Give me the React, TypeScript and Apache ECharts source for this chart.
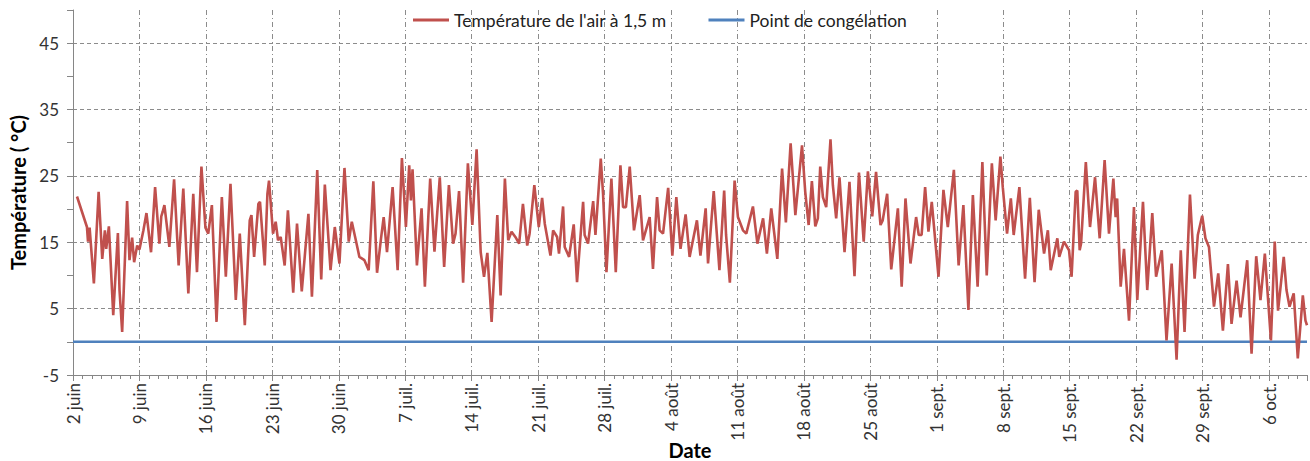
import React, { useEffect, useRef } from "react";
import * as echarts from "echarts";

// Days since 2 June (0 = 2 juin) and air temperature (°C) at 1.5 m
const tempDays = [
  0.42, 1.47, 1.58, 1.75, 2.2, 2.7, 3.08, 3.36, 3.5, 3.78, 4.24, 4.73, 4.9, 5.18, 5.7, 5.95, 6.23, 6.44, 6.76, 7.0,
  7.42, 7.74, 8.22, 8.65, 9.1, 9.3, 9.45, 9.63, 10.15, 10.65, 11.13, 11.62, 12.15, 12.67, 13.06, 13.53, 13.95, 14.25,
  14.63, 15.12, 15.68, 16.1, 16.59, 17.15, 17.57, 18.1, 18.62, 18.8, 19.08, 19.53, 19.7, 20.2, 20.48, 20.65, 21.07,
  21.35, 21.6, 21.88, 22.3, 22.64, 23.2, 23.6, 24.1, 24.8, 25.17, 25.73, 26.15, 26.53, 27.13, 27.58, 28.07, 28.6,
  29.05, 29.37, 29.75, 30.17, 30.7, 31.15, 31.64, 32.03, 32.45, 32.73, 33.08, 33.67, 34.2, 34.65, 35.07, 35.42, 35.6,
  35.77, 36.23, 36.72, 37.07, 37.63, 38.08, 38.64, 39.1, 39.6, 40.04, 40.3, 40.67, 41.1, 41.6, 42.07, 42.52, 42.95,
  43.3, 43.65, 44.1, 44.7, 45.05, 45.5, 45.85, 46.2, 46.6, 47.0, 47.4, 47.85, 48.1, 48.6, 49.07, 49.42, 49.7, 49.95,
  50.3, 50.58, 51.0, 51.2, 51.63, 51.8, 52.26, 52.75, 53.1, 53.74, 53.9, 54.26, 54.8, 55.04, 55.6, 55.84, 56.2, 56.72,
  57.18, 57.67, 57.95, 58.25, 58.65, 59.1, 59.7, 60.05, 60.75, 61.1, 61.53, 61.8, 62.16, 62.7, 63.14, 63.56, 64.0,
  64.54, 64.96, 65.73, 66.1, 66.65, 66.9, 67.5, 68.1, 68.6, 68.8, 69.2, 69.7, 70.05, 70.58, 70.93, 71.63, 72.1, 72.7,
  73.1, 73.56, 74.2, 74.7, 75.1, 75.6, 76.1, 76.8, 77.14, 77.5, 77.84, 78.2, 78.47, 78.72, 79.0, 79.35, 79.8, 80.05,
  80.4, 80.75, 81.28, 81.8, 82.33, 82.8, 83.3, 83.74, 84.2, 84.6, 85.07, 85.3, 85.77, 86.2, 86.9, 87.3, 87.7, 88.23,
  88.82, 89.1, 89.4, 89.77, 90.12, 90.47, 91.18, 91.7, 92.16, 92.8, 93.3, 93.8, 94.33, 94.8, 95.3, 95.8, 96.26, 96.8,
  97.2, 97.7, 97.95, 98.4, 98.8, 99.1, 99.7, 100.3, 100.8, 101.3, 101.74, 102.3, 102.7, 103.0, 103.7, 103.9, 104.4,
  104.93, 105.2, 105.63, 105.8, 106.05, 106.2, 106.7, 107.14, 107.67, 108.16, 108.68, 109.14, 109.6, 109.84, 110.0,
  110.37, 110.72, 111.25, 111.77, 112.12, 112.72, 113.17, 113.7, 114.1, 114.7, 115.2, 115.74, 116.26, 116.7, 117.1,
  117.67, 118.16, 118.5, 118.96, 119.3, 119.67, 120.2, 120.65, 121.14, 121.67, 122.05, 122.58, 123.0, 123.7, 124.16,
  124.65, 125.1, 125.56, 126.2, 126.6, 126.95, 127.55, 127.84, 128.16, 128.6, 129.03, 129.56, 129.84, 130.0,
];

const tempValues = [
  21.9, 17.3, 15.1, 17.2, 8.8, 22.6, 12.5, 16.8, 14.0, 17.4, 4.0, 16.4, 7.8, 1.5, 21.2, 12.3, 15.7, 12.0, 14.5, 13.9,
  16.8, 19.4, 13.5, 23.3, 14.8, 18.9, 19.6, 20.6, 14.3, 24.5, 11.5, 23.1, 7.3, 22.3, 10.5, 26.4, 17.2, 16.3,
  20.6, 3.0, 21.8, 9.8, 23.8, 6.3, 16.3, 2.5, 18.3, 19.1, 12.8, 20.8, 21.1, 11.5, 22.3, 24.3, 16.3,
  18.1, 15.3, 15.8, 11.5, 19.8, 7.4, 17.8, 7.6, 19.3, 6.8, 25.9, 9.4, 23.7, 10.8, 17.3, 11.8, 26.2,
  15.1, 18.1, 15.6, 12.8, 12.3, 10.8, 24.2, 10.4, 15.6, 18.8, 13.5, 23.3, 10.8, 27.7, 17.3, 26.6, 21.3,
  26.0, 11.5, 20.1, 8.3, 24.6, 13.6, 24.8, 11.3, 23.6, 14.8, 16.3, 22.7, 8.9, 26.9, 17.6, 29.0, 13.5,
  9.8, 13.4, 3.0, 19.1, 7.0, 24.6, 15.3, 16.6, 15.8, 14.8, 20.8, 14.5, 16.3, 23.6, 17.3, 21.7, 17.8, 15.8,
  13.0, 16.8, 15.8, 13.3, 20.4, 14.3, 12.8, 17.7, 9.0, 21.1, 16.1, 14.8, 21.2, 16.1, 27.6, 22.3, 10.5, 24.6,
  10.5, 26.6, 20.3, 20.3, 26.4, 16.8, 22.1, 15.3, 18.8, 11.0, 21.8, 16.8, 16.3, 23.2, 13.0, 21.8, 14.0,
  19.2, 12.8, 18.3, 13.0, 20.1, 11.8, 22.7, 10.8, 22.8, 16.1, 8.9, 24.3, 18.8, 16.8, 16.3, 20.4, 14.8, 18.6,
  13.3, 20.1, 12.5, 26.1, 18.0, 29.9, 19.1, 29.6, 22.6, 17.6, 24.2, 17.4, 18.6, 26.4, 21.8, 20.3, 30.5, 23.6,
  18.6, 24.8, 13.5, 24.1, 9.9, 25.5, 15.1, 25.7, 18.9, 25.6, 17.6, 18.3, 22.3, 10.9, 20.1, 8.3, 21.6, 11.8,
  18.8, 16.1, 16.1, 23.3, 16.6, 21.1, 9.8, 22.9, 17.3, 25.9, 11.5, 20.6, 4.8, 22.1, 8.3, 27.1, 10.0, 26.9,
  18.3, 27.9, 23.3, 16.3, 21.6, 16.1, 23.3, 9.5, 21.7, 9.0, 19.9, 13.3, 16.8, 10.8, 15.6, 12.8, 15.1,
  13.8, 9.8, 22.6, 22.8, 13.8, 14.8, 27.1, 17.3, 24.8, 15.6, 27.4, 16.3, 24.6, 18.8, 21.6,
  8.3, 14.0, 3.2, 20.3, 6.3, 21.1, 7.8, 19.4, 9.8, 13.8, 0.2, 11.8, -2.7, 13.8, 1.5,
  22.2, 9.5, 16.1, 19.0, 15.6, 14.3, 5.3, 10.3, 1.7, 11.7, 2.7, 9.2, 3.7, 12.3, -1.8,
  12.9, 6.3, 13.3, 0.2, 15.1, 4.7, 12.8, 7.8, 5.3, 7.3, -2.5, 7.0, 3.2, 2.5,
];

const freezeDays = [0, 130];
const freezeValues = [0, 0];

const xTickLabels = [
  "2 juin", "9 juin", "16 juin", "23 juin", "30 juin", "7 juil.", "14 juil.", "21 juil.", "28 juil.",
  "4 août", "11 août", "18 août", "25 août", "1 sept.", "8 sept.", "15 sept.", "22 sept.", "29 sept.", "6 oct.",
];

const seriesNames = ["Température de l'air à 1,5 m", "Point de congélation"];
const FONT = "Lato, 'Noto Sans', sans-serif";

export default function App() {
  const ref = useRef<HTMLDivElement>(null);

  useEffect(() => {
    if (!ref.current) return;
    const chart = echarts.init(ref.current, null, { renderer: "svg" });
    const tempData = tempDays.map((d, i) => [d, tempValues[i]]);
    const freezeData = freezeDays.map((d, i) => [d, freezeValues[i]]);

    chart.setOption({
      animation: false,
      textStyle: { fontFamily: FONT },
      legend: {
        top: 6,
        left: 408,
        itemWidth: 36,
        itemHeight: 3,
        itemGap: 42,
        icon: "rect",
        textStyle: { fontFamily: FONT, fontSize: 17.5, color: "#222" },
        data: seriesNames,
      },
      grid: { left: 73, right: 3, top: 10, bottom: 86, containLabel: false, outerBoundsMode: "none" },
      xAxis: {
        type: "value",
        min: 0,
        max: 130,
        interval: 7,
        name: "Date",
        nameLocation: "middle",
        nameGap: 65,
        nameMoveOverlap: false,
        nameTextStyle: { fontFamily: FONT, fontSize: 20, fontWeight: "bold", color: "#000" },
        axisLine: { show: true, onZero: false, lineStyle: { color: "#868686", width: 1 } },
        axisTick: { show: true, length: 6, lineStyle: { color: "#868686" } },
        minorTick: { show: true, splitNumber: 7, length: 4, lineStyle: { color: "#868686" } },
        axisLabel: {
          rotate: 90,
          margin: 8,
          fontFamily: FONT,
          fontSize: 17,
          color: "#333",
          showMaxLabel: false,
          formatter: (v: number) => {
            const idx = Math.round(v / 7);
            return Math.abs(idx * 7 - v) < 1e-6 && xTickLabels[idx] ? xTickLabels[idx] : "";
          },
        },
        splitLine: {
          show: true,
          showMaxLine: false,
          lineStyle: { color: "#8c8c8c", width: 1, type: [5, 3, 1, 3] },
        },
      },
      yAxis: {
        type: "value",
        min: -5,
        max: 50,
        interval: 5,
        name: "Température ( °C)",
        nameLocation: "middle",
        nameGap: 45,
        nameMoveOverlap: false,
        nameTextStyle: { fontFamily: FONT, fontSize: 20, fontWeight: "bold", color: "#000" },
        axisLine: { show: true, lineStyle: { color: "#868686", width: 1 } },
        axisTick: { show: true, length: 6, lineStyle: { color: "#868686" } },
        axisLabel: {
          margin: 14,
          fontFamily: FONT,
          fontSize: 17,
          color: "#333",
          formatter: (v: number) => (Math.round(v) % 10 === 0 ? "" : String(v)),
        },
        splitLine: {
          show: true,
          lineStyle: { color: ["#8c8c8c", "rgba(0,0,0,0)"], width: 1, type: [4, 3] },
        },
      },
      series: [
        {
          name: seriesNames[0],
          type: "line",
          data: tempData,
          symbol: "none",
          z: 3,
          lineStyle: { color: "#C0504D", width: 2.6 },
          itemStyle: { color: "#C0504D" },
        },
        {
          name: seriesNames[1],
          type: "line",
          data: freezeData,
          symbol: "none",
          z: 2,
          lineStyle: { color: "#4F81BD", width: 2.6 },
          itemStyle: { color: "#4F81BD" },
        },
      ],
    });

    return () => chart.dispose();
  }, []);

  return (
    <div
      ref={ref}
      style={{ position: "absolute", left: 0, top: 0, width: 1310, height: 461, background: "#fff" }}
    />
  );
}
